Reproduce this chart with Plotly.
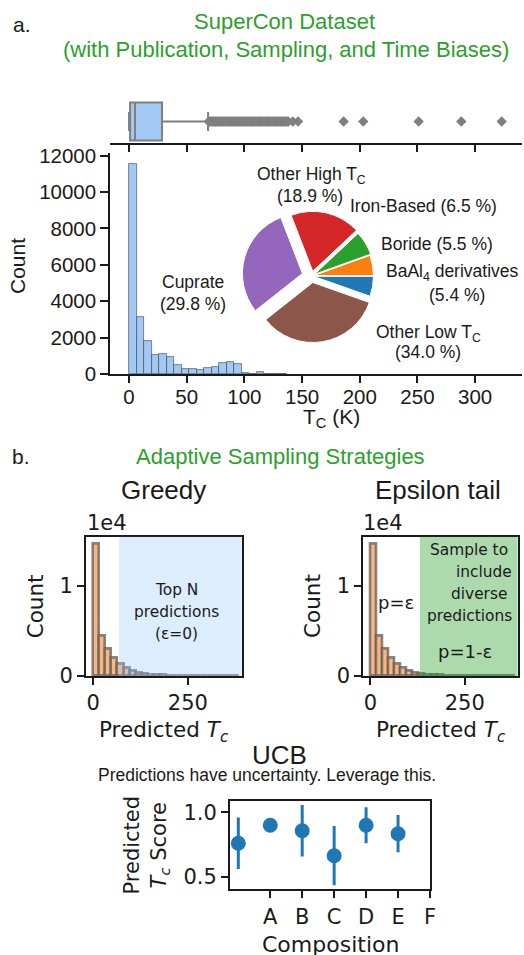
import numpy as np
import plotly.graph_objects as go

W, H = 524, 955

# ------------------------- data -------------------------
# Panel a: SuperCon Tc histogram (bin width 6.5 K starting at 0)
tc_bin_width = 6.5
tc_counts = [11550, 3150, 1820, 1050, 1100, 950, 500, 280, 280, 240,
             310, 400, 580, 640, 570, 30, 20, 90, 15, 10, 6]
tc_ticks = [0, 50, 100, 150, 200, 250, 300]
tc_ticktext = ["0", "50", "100", "150", "200", "250", "300"]
count_ticks = [0, 2000, 4000, 6000, 8000, 10000, 12000]
count_ticktext = ["0", "2000", "4000", "6000", "8000", "10000", "12000"]

# Panel a: box plot summary of Tc
tc_q1, tc_median, tc_q3 = 0.9, 5.2, 28.6
tc_low, tc_high = 0.0, 68.5
tc_outliers = [69, 70, 71, 72, 73, 74, 75, 76, 77, 78, 79, 80, 81, 82, 83,
               84, 85, 86, 87, 88, 89, 90, 91, 92, 93, 94, 95, 96, 97, 98,
               99, 100, 101, 102, 103, 104, 105, 106, 107, 108, 109, 110,
               111, 112, 113, 114, 115, 116, 117, 118, 119, 120, 121, 122,
               123, 124, 125, 126, 127, 128, 129, 130, 131, 132, 133, 134,
               135, 136, 137, 138,
               142, 146.5, 186, 203, 251, 288, 323]

# Panel a: pie of superconductor families
pie_labels = ["BaAl4 derivatives", "Boride", "Iron-Based",
              "Other High Tc", "Cuprate", "Other Low Tc"]
pie_values = [5.4, 5.5, 6.5, 18.9, 29.8, 34.0]
pie_colors = ["#1f77b4", "#ff7f0e", "#2ca02c", "#d62728", "#9467bd", "#8c564b"]
pie_pull = [0.03, 0.03, 0.05, 0.08, 0.16, 0.11]

# Panel b: predicted Tc histogram (bin width 16 K starting at 0)
pred_bin_width = 16
pred_counts = [14700, 4480, 3000, 2070, 1330, 890, 590, 410, 270, 200,
               150, 110, 80, 60, 45, 30, 20, 15, 10, 8, 5, 4, 3, 2]
pred_x_ticks = [0, 250]
pred_y_ticks = [0, 10000]
pred_y_ticktext = ["0", "1"]
greedy_threshold = 68
epsilon_threshold = 131

# Panel b: UCB scores
ucb_positions = [0, 1, 2, 3, 4, 5]
ucb_scores = [0.76, 0.90, 0.857, 0.663, 0.90, 0.834]
ucb_errors = [0.20, 0.05, 0.20, 0.23, 0.14, 0.145]
ucb_tick_positions = [1, 2, 3, 4, 5, 6]
ucb_tick_labels = ["A", "B", "C", "D", "E", "F"]
ucb_y_ticks = [0.5, 1.0]
ucb_y_ticktext = ["0.5", "1.0"]

# ------------------------- helpers -------------------------
def px(x):
    return x / W


def py(y):
    return 1 - y / H


ARIAL = "Liberation Sans, Arial, sans-serif"
DEJAVU = "DejaVu Sans, sans-serif"
GREEN = "#2ca02c"
INK = "#1a1a1a"

fig = go.Figure()

# ---- panel a: box plot ----
fig.add_trace(go.Box(
    q1=[tc_q1], median=[tc_median], q3=[tc_q3],
    lowerfence=[tc_low], upperfence=[tc_high],
    y=[0], orientation="h", width=0.88, whiskerwidth=0.5,
    fillcolor="#a1c9f4", line=dict(color="#7f7f7f", width=2),
    boxpoints=False, xaxis="x", yaxis="y", showlegend=False,
))
fig.add_trace(go.Scatter(
    x=tc_outliers, y=[0] * len(tc_outliers), mode="markers",
    marker=dict(symbol="diamond", size=8, color="#7f7f7f"),
    xaxis="x", yaxis="y", showlegend=False,
))

# ---- panel a: histogram ----
tc_edges = np.arange(len(tc_counts)) * tc_bin_width
fig.add_trace(go.Bar(
    x=tc_edges + tc_bin_width / 2, y=tc_counts, width=tc_bin_width,
    marker=dict(color="#a1c9f4", line=dict(color="rgba(60,60,70,0.75)", width=0.8)),
    xaxis="x2", yaxis="y2", showlegend=False,
))

# ---- panel a: pie ----
pie_r = 60
max_pull = max(pie_pull)
half = pie_r * (1 + max_pull)
cx, cy = 311.7, 276
fig.add_trace(go.Pie(
    values=pie_values, labels=pie_labels, sort=False,
    direction="counterclockwise", rotation=90, pull=pie_pull,
    marker=dict(colors=pie_colors, line=dict(color="white", width=1)),
    textinfo="none", showlegend=False,
    domain=dict(x=[px(cx - half), px(cx + half)], y=[py(cy + half), py(cy - half)]),
))

# ---- panel b: greedy / epsilon histograms ----
pred_edges = np.arange(len(pred_counts)) * pred_bin_width
for xa, ya in (("x3", "y3"), ("x4", "y4")):
    fig.add_trace(go.Bar(
        x=pred_edges + pred_bin_width / 2, y=pred_counts, width=pred_bin_width,
        marker=dict(color="#fbb57e", line=dict(color="rgba(95,95,95,0.75)", width=2.6)),
        xaxis=xa, yaxis=ya, showlegend=False,
    ))

# ---- panel b: UCB ----
fig.add_trace(go.Scatter(
    x=ucb_positions, y=ucb_scores, mode="markers",
    marker=dict(size=15, color="#1f77b4"),
    error_y=dict(type="data", array=ucb_errors, color="#1f77b4", thickness=3, width=0),
    xaxis="x5", yaxis="y5", showlegend=False,
))

# ------------------------- axes -------------------------
a_x_range = [-16.5, 340.6]
a_left, a_right = 110, 522

common_line = dict(showline=True, linecolor=INK, showgrid=False, zeroline=False,
                   ticks="outside", tickcolor=INK, automargin=False)

layout = dict(
    width=W, height=H,
    margin=dict(l=0, r=0, t=0, b=0, pad=0, autoexpand=False),
    paper_bgcolor="white", plot_bgcolor="white",
    bargap=0, showlegend=False,
    xaxis=dict(domain=[px(a_left), px(a_right)], range=a_x_range,
               tickvals=tc_ticks, showticklabels=False, ticklen=7, tickwidth=1.5,
               linewidth=1.5, anchor="y", **common_line),
    yaxis=dict(domain=[py(143), py(100)], range=[-0.5, 0.5], visible=False,
               anchor="x"),
    xaxis2=dict(domain=[px(a_left), px(a_right)], range=a_x_range,
                tickvals=tc_ticks, ticktext=tc_ticktext, ticklen=7, tickwidth=1.5,
                linewidth=1.5, ticklabelstandoff=-3,
                tickfont=dict(family=ARIAL, size=20.5, color=INK),
                anchor="y2", **common_line),
    yaxis2=dict(domain=[py(374), py(153)], range=[0, 12150],
                tickvals=count_ticks, ticktext=count_ticktext,
                ticklen=8, tickwidth=1.5, linewidth=1.5,
                tickfont=dict(family=ARIAL, size=20.5, color=INK),
                anchor="x2", **common_line),
)

b_tick = dict(family=DEJAVU, size=21, color=INK)
for idx, (l, r) in ((3, (86, 241.7)), (4, (363.3, 518.3))):
    layout[f"xaxis{idx}"] = dict(domain=[px(l), px(r)], range=[-19, 392],
                                 tickvals=pred_x_ticks, ticklen=7, tickwidth=1.5,
                                 linewidth=2, mirror=True, tickfont=b_tick,
                                 anchor=f"y{idx}", **common_line)
    layout[f"yaxis{idx}"] = dict(domain=[py(676), py(536.7)], range=[0, 15480],
                                 tickvals=pred_y_ticks, ticktext=pred_y_ticktext,
                                 ticklen=7, tickwidth=1.5, linewidth=2, mirror=True,
                                 tickfont=b_tick, anchor=f"x{idx}", **common_line)

layout["xaxis5"] = dict(domain=[px(230), px(430)], range=[-0.26, 6],
                        tickvals=ucb_tick_positions, ticktext=ucb_tick_labels,
                        ticklen=7, tickwidth=1.5, linewidth=2, mirror=True,
                        tickfont=b_tick, anchor="y5", **common_line)
layout["yaxis5"] = dict(domain=[py(889.3), py(801)], range=[0.402, 1.088],
                        tickvals=ucb_y_ticks, ticktext=ucb_y_ticktext,
                        ticklen=7, tickwidth=1.5, linewidth=2, mirror=True,
                        tickfont=b_tick, anchor="x5", **common_line)

fig.update_layout(**layout)

# ------------------------- shading -------------------------
fig.add_shape(type="rect", xref="x3", yref="y3 domain", x0=greedy_threshold, x1=392,
              y0=0, y1=1, fillcolor="rgba(150,200,250,0.33)", line_width=0, layer="above")
fig.add_shape(type="rect", xref="x4", yref="y4 domain", x0=epsilon_threshold, x1=390,
              y0=0, y1=1, fillcolor="rgba(44,160,44,0.39)", line_width=0, layer="above")

# ------------------------- text -------------------------
def note(text, x, y, size, family=ARIAL, color=INK, angle=0, xanchor="center"):
    fig.add_annotation(text=text, x=px(x), y=py(y), xref="paper", yref="paper",
                       xanchor=xanchor, yanchor="middle", showarrow=False,
                       textangle=angle, font=dict(family=family, size=size, color=color))

note("a.", 22, 25, 21)
note("SuperCon Dataset", 284, 22, 22, color=GREEN)
note("(with Publication, Sampling, and Time Biases)", 286, 50, 22, color=GREEN)
note("Count", 17, 266, 21, angle=-90)
note("T<sub>C</sub> (K)", 331, 418, 21)

# pie labels
pie_fs = 17.5
note("Other High T<sub>C</sub>", 311.7, 175, pie_fs)
note("(18.9 %)", 309.7, 196, pie_fs)
note("Iron-Based (6.5 %)", 423.5, 206, pie_fs)
note("Boride (5.5 %)", 436.7, 244, pie_fs)
note("BaAl<sub>4</sub> derivatives", 452, 272, pie_fs)
note("(5.4 %)", 456.7, 295, pie_fs)
note("Cuprate", 192.5, 282, pie_fs)
note("(29.8 %)", 193, 304, pie_fs)
note("Other Low T<sub>C</sub>", 428.3, 333, pie_fs)
note("(34.0 %)", 427.8, 352, pie_fs)

# panel b
note("b.", 21, 456, 21)
note("Adaptive Sampling Strategies", 280, 456, 22, color=GREEN)
note("Greedy", 163, 490, 26)
note("Epsilon tail", 438.3, 490, 26)
note("1e4", 107, 523, 21, family=DEJAVU)
note("1e4", 383.3, 523, 21, family=DEJAVU)
note("Count", 35.3, 606, 21.5, family=DEJAVU, angle=-90)
note("Count", 312, 606, 21.5, family=DEJAVU, angle=-90)
note("Predicted <i>T</i><sub><i>c</i></sub>", 163.5, 731, 21.5, family=DEJAVU)
note("Predicted <i>T</i><sub><i>c</i></sub>", 441, 731, 21.5, family=DEJAVU)

note("Top N", 176.7, 590, 15.4, family=DEJAVU)
note("predictions", 176.7, 612, 15.4, family=DEJAVU)
note("(ε=0)", 176.7, 634, 15.4, family=DEJAVU)

note("Sample to", 510, 550, 15.4, family=DEJAVU, xanchor="right")
note("include", 514, 572, 15.4, family=DEJAVU, xanchor="right")
note("diverse", 509, 594, 15.4, family=DEJAVU, xanchor="right")
note("predictions", 514, 616, 15.4, family=DEJAVU, xanchor="right")
note("p=1-ε", 465, 651, 18, family=DEJAVU)
note("p=ε", 396, 602, 18, family=DEJAVU)

note("UCB", 279, 755, 26)
note("Predictions have uncertainty. Leverage this.", 267, 775, 17.5)
note("Predicted<br><i>T</i><sub><i>c</i></sub> Score", 146.5, 845, 21, family=DEJAVU, angle=-90)
note("Composition", 330, 944, 22, family=DEJAVU)

fig.write_html("out.html",
               config={"displayModeBar": False},
               post_script="document.body.style.margin='0px';"
                           "document.body.style.overflow='hidden';")
